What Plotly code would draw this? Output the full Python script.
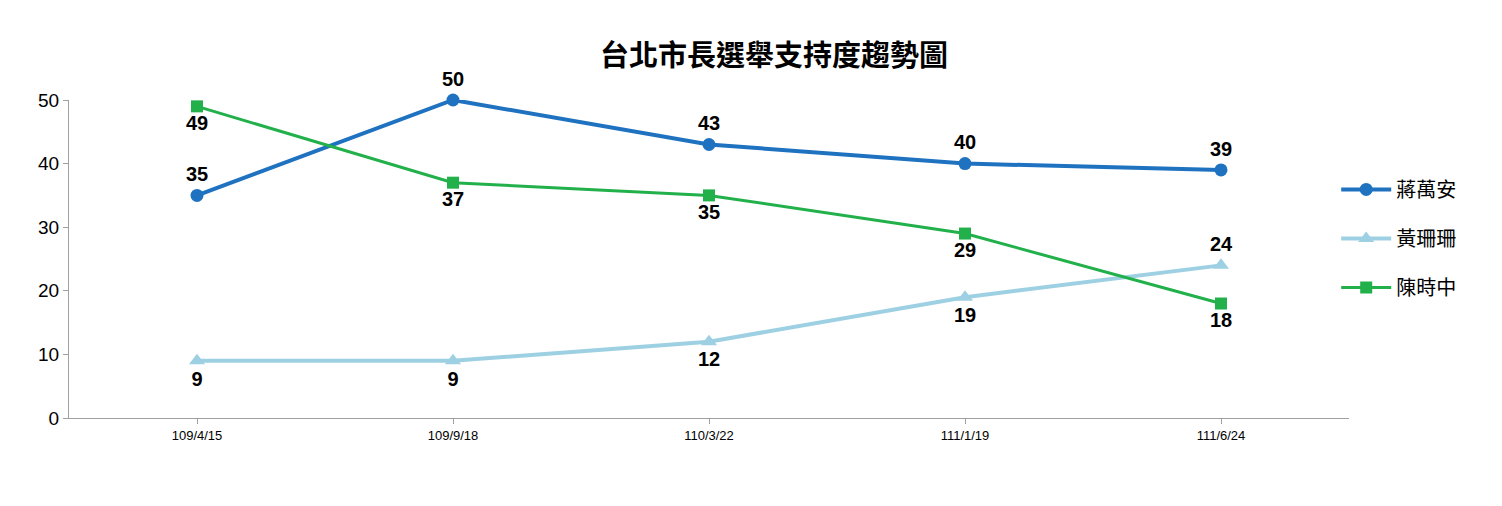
import plotly.graph_objects as go

dates = ['109/4/15', '109/9/18', '110/3/22', '111/1/19', '111/6/24']
chiang = [35, 50, 43, 40, 39]
huang = [9, 9, 12, 19, 24]
chen = [49, 37, 35, 29, 18]

font = 'Liberation Sans, Noto Sans CJK TC, sans-serif'
label_font = dict(size=20, color='black', family=font, weight='bold')

fig = go.Figure()
fig.add_trace(go.Scatter(
    x=dates, y=chiang, name='蔣萬安', mode='lines+markers+text', legendgroup='a',
    line=dict(color='#1f72c0', width=4), marker=dict(symbol='circle', size=13),
    text=chiang, textposition='top center', textfont=label_font,
))
fig.add_trace(go.Scatter(
    x=dates, y=huang, name='黃珊珊', mode='lines+markers+text', legendgroup='b',
    line=dict(color='#9dd0e2', width=4), marker=dict(symbol='triangle-up', size=14),
    text=huang, textposition=['bottom center'] * 4 + ['top center'], textfont=label_font,
))
fig.add_trace(go.Scatter(
    x=dates, y=chen, name='陳時中', mode='lines+markers+text', legendgroup='c',
    line=dict(color='#22b04b', width=3), marker=dict(symbol='square', size=12),
    text=chen, textposition='bottom center', textfont=label_font,
))

fig.update_layout(
    width=1502, height=506,
    plot_bgcolor='white', paper_bgcolor='white',
    margin=dict(l=61, r=161, t=92, b=96, autoexpand=False),
    font=dict(family=font, color='black'),
    title=dict(text='<b>台北市長選舉支持度趨勢圖</b>', x=0.51, y=0.925, xanchor='center',
               font=dict(size=29, color='black')),
    xaxis=dict(type='category', range=[-0.5, 4.5], showline=True, linecolor='#a0a0a0',
               ticks='outside', tickcolor='#a0a0a0', tickfont=dict(size=13), showgrid=False),
    yaxis=dict(range=[0, 50], dtick=10, showline=True, linecolor='#a0a0a0',
               showgrid=False, tickfont=dict(size=19), ticks='outside', tickcolor='#a0a0a0',
               ticklen=5),
    legend=dict(x=0.99, y=0.78, yanchor='top', font=dict(size=20), tracegroupgap=20,
                traceorder='grouped', itemwidth=50),
    showlegend=True,
)
fig.update_traces(cliponaxis=False)
fig.write_html('out.html')
